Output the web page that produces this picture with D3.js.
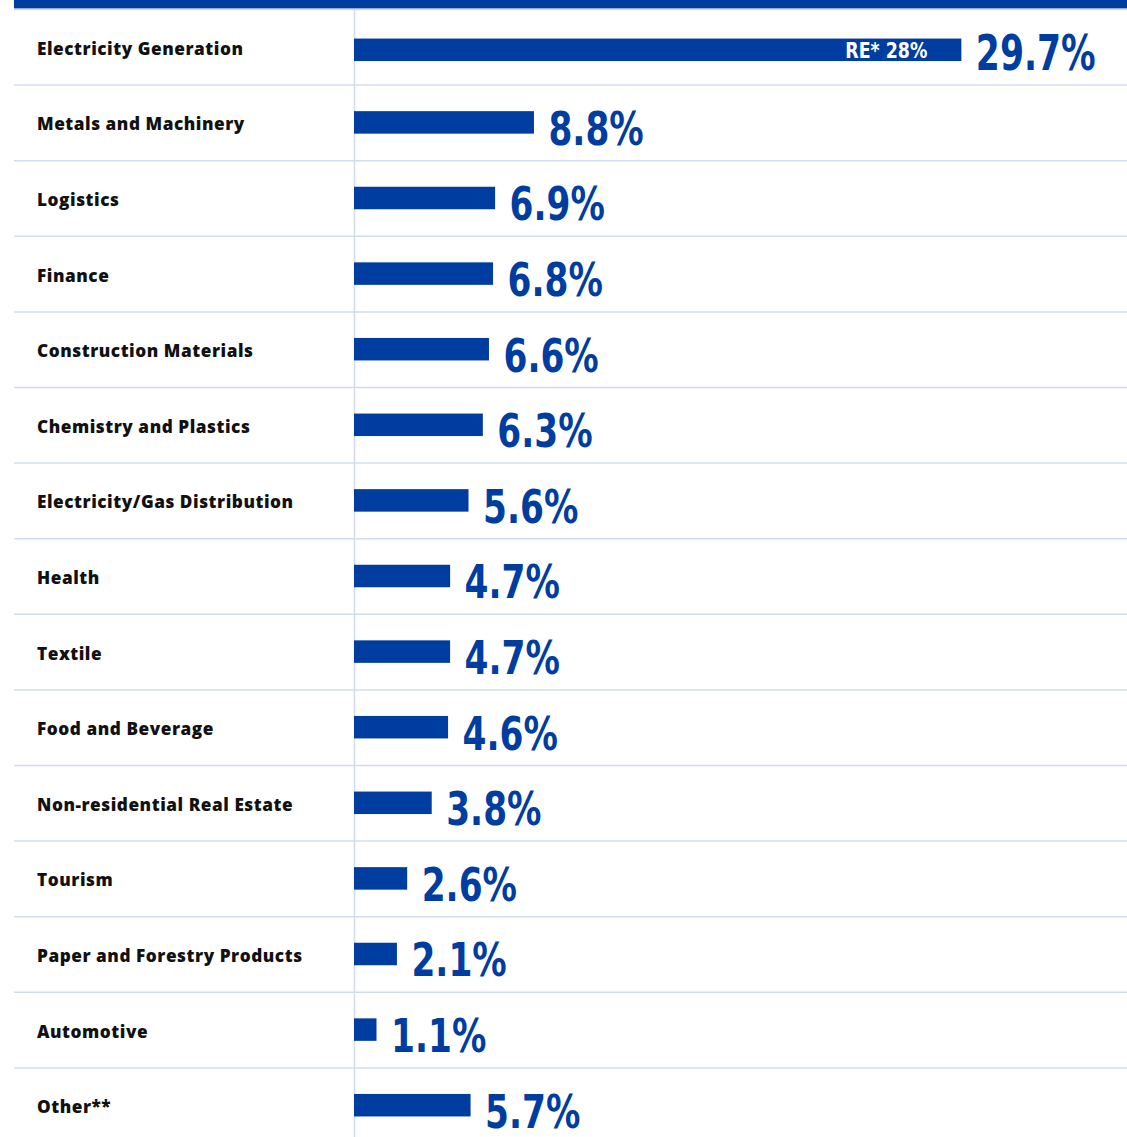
<!DOCTYPE html>
<html>
<head>
<meta charset="utf-8">
<script src="https://cdn.jsdelivr.net/npm/d3@7"></script>
<style>
  html, body { margin: 0; padding: 0; background: #ffffff; }
  svg { display: block; }
</style>
</head>
<body>
<script>
// Sector shares (%)
const categories = [
  "Electricity Generation",
  "Metals and Machinery",
  "Logistics",
  "Finance",
  "Construction Materials",
  "Chemistry and Plastics",
  "Electricity/Gas Distribution",
  "Health",
  "Textile",
  "Food and Beverage",
  "Non-residential Real Estate",
  "Tourism",
  "Paper and Forestry Products",
  "Automotive",
  "Other**"
];
const shares = [29.7, 8.8, 6.9, 6.8, 6.6, 6.3, 5.6, 4.7, 4.7, 4.6, 3.8, 2.6, 2.1, 1.1, 5.7];
// Renewable-energy portion noted inside the first bar
const renewableNote = { category: "Electricity Generation", label: "RE* 28%" };

(function () {
  const W = 1127, H = 1137;
  const BLUE = "#003da0";
  const RULE = "#d3dcef";
  const NUM_FONT = "'DejaVu Sans Condensed', 'DejaVu Sans', sans-serif";

  const svg = d3.select("body").append("svg")
    .attr("width", W).attr("height", H);

  const leftX = 14, axisX = 354, topY = 9, rowH = 75.6;

  const y = d3.scaleBand()
    .domain(categories)
    .range([topY, topY + rowH * categories.length])
    .paddingInner(0).paddingOuter(0);

  const x = d3.scaleLinear()
    .domain([0, 30])
    .range([axisX, axisX + 30 * 20.45]);

  const barH = 22.5;
  const mid = c => y(c) + y.bandwidth() / 2;

  // top band
  svg.append("rect")
    .attr("x", leftX).attr("y", 0)
    .attr("width", W - leftX).attr("height", 8.5)
    .attr("fill", BLUE);

  // row separators
  svg.append("g").selectAll("line")
    .data(categories)
    .join("line")
    .attr("x1", leftX).attr("x2", W)
    .attr("y1", d => y(d) + 0.5).attr("y2", d => y(d) + 0.5)
    .attr("stroke", RULE).attr("stroke-width", 1.5);

  // vertical axis rule
  svg.append("line")
    .attr("x1", axisX + 0.5).attr("x2", axisX + 0.5)
    .attr("y1", topY).attr("y2", H)
    .attr("stroke", RULE).attr("stroke-width", 1.5);

  const rows = svg.append("g").selectAll("g")
    .data(categories.map((c, i) => ({ c, v: shares[i], i })))
    .join("g");

  // category labels
  rows.append("text")
    .attr("x", 37)
    .attr("y", d => mid(d.c) + 8)
    .attr("font-family", "'Open Sans', 'Noto Sans', sans-serif")
    .attr("font-weight", 800)
    .attr("font-size", 17.2)
    .attr("letter-spacing", 0.55)
    .attr("fill", "#111111")
    .text(d => d.c);

  // bars (the top row sits slightly lower under the header band)
  rows.append("rect")
    .attr("x", x(0))
    .attr("y", d => mid(d.c) - barH / 2 + (d.i === 0 ? 3 : 0))
    .attr("width", d => x(d.v) - x(0))
    .attr("height", barH)
    .attr("fill", BLUE);

  // value labels (condensed bold numerals)
  rows.append("text")
    .attr("transform", d => {
      const big = d.i === 0;
      return `translate(${x(d.v) + 14.5},${mid(d.c) + (big ? 23.2 : 22.3)}) scale(${big ? 0.76 : 0.84},1)`;
    })
    .attr("font-family", NUM_FONT)
    .attr("font-weight", 700)
    .attr("font-size", d => d.i === 0 ? 50.5 : 45.5)
    .attr("fill", BLUE)
    .text(d => d3.format(".1f")(d.v) + "%");

  // renewable-energy note inside first bar
  const first = shares[categories.indexOf(renewableNote.category)];
  svg.append("text")
    .attr("transform", `translate(${x(first) - 34},${mid(renewableNote.category) + 11.3}) scale(0.9,1)`)
    .attr("text-anchor", "end")
    .attr("font-family", NUM_FONT)
    .attr("font-weight", 700)
    .attr("font-size", 21.5)
    .attr("fill", "#ffffff")
    .text(renewableNote.label);
})();
</script>
</body>
</html>
